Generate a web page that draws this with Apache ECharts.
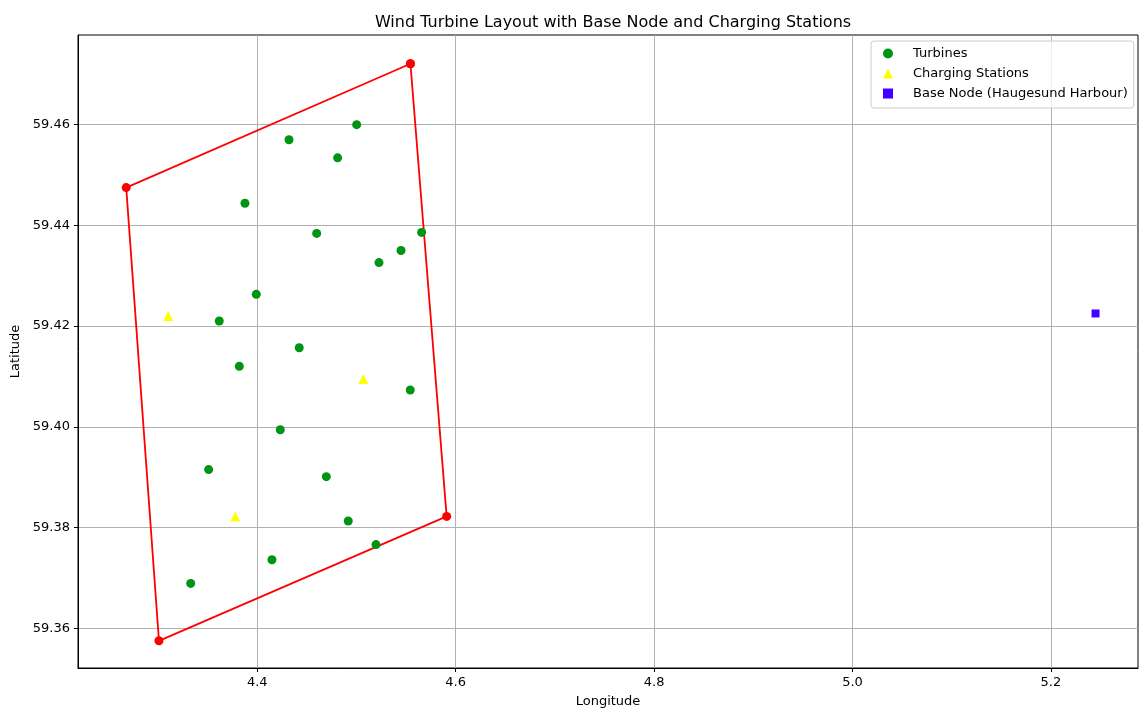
<!DOCTYPE html>
<html>
<head>
<meta charset="utf-8">
<script src="https://cdn.jsdelivr.net/npm/echarts@6/dist/echarts.min.js"></script>
<style>
html,body{margin:0;padding:0;background:#fff;}
#chart{width:1139px;height:713px;}
</style>
</head>
<body>
<div id="chart"></div>
<script>
// ---- data ----
const turbineLon = [4.5002, 4.4320, 4.4810, 4.3876, 4.4599, 4.5657, 4.5449, 4.5227, 4.3990, 4.3617,
                    4.4423, 4.3819, 4.5542, 4.4232, 4.3510, 4.4696, 4.4917, 4.5197, 4.4148, 4.3329];
const turbineLat = [59.4600, 59.4570, 59.4534, 59.4444, 59.4384, 59.4386, 59.4350, 59.4326, 59.4263, 59.4210,
                    59.4157, 59.4120, 59.4073, 59.3994, 59.3915, 59.3901, 59.3813, 59.3766, 59.3736, 59.3689];
const chargingLon = [4.3103, 4.5069, 4.3778];
const chargingLat = [59.4220, 59.4095, 59.3822];
const baseLon = [5.2450];
const baseLat = [59.4225];
const boundaryLon = [4.5544, 4.5909, 4.3009, 4.2679, 4.5544];
const boundaryLat = [59.4721, 59.3822, 59.3575, 59.4475, 59.4721];
const xTicks = [4.4, 4.6, 4.8, 5.0, 5.2];
const yTicks = [59.36, 59.38, 59.40, 59.42, 59.44, 59.46];

const zip = (a, b) => a.map((v, i) => [v, b[i]]);
const FONT = 'DejaVu Sans';

const chart = echarts.init(document.getElementById('chart'), null, {renderer: 'canvas'});
chart.setOption({
  animation: false,
  backgroundColor: '#fff',
  textStyle: {fontFamily: FONT},
  title: {
    text: 'Wind Turbine Layout with Base Node and Charging Stations',
    left: 608, top: 10, textAlign: 'center',
    textStyle: {fontFamily: FONT, fontSize: 16, fontWeight: 'normal', color: '#000'}
  },
  legend: {
    orient: 'vertical',
    left: 871, top: 41,
    padding: [6, 6, 8, 12],
    itemGap: 7,
    itemWidth: 10, itemHeight: 10,
    backgroundColor: 'rgba(255,255,255,0.8)',
    borderColor: '#cccccc', borderWidth: 1, borderRadius: 3,
    textStyle: {fontFamily: FONT, fontSize: 13, color: '#000', padding: [0, 0, 0, 15]},
    data: [
      {name: 'Turbines', icon: 'circle'},
      {name: 'Charging Stations', icon: 'triangle'},
      {name: 'Base Node (Haugesund Harbour)', icon: 'rect'}
    ]
  },
  grid: {left: 78, right: 1, top: 35, bottom: 43, show: true, borderColor: '#000', borderWidth: 1, backgroundColor: '#fff'},
  xAxis: {
    type: 'value', min: 4.2193, max: 5.2878,
    minInterval: 0.2, maxInterval: 0.2,
    name: 'Longitude', nameLocation: 'middle', nameGap: 27,
    nameTextStyle: {fontFamily: FONT, fontSize: 13, color: '#000'},
    axisLine: {show: true, onZero: false, lineStyle: {color: '#000', width: 1}},
    axisTick: {show: true, length: 4, lineStyle: {color: '#000'}, customValues: xTicks},
    axisLabel: {fontFamily: FONT, fontSize: 13, color: '#000', margin: 8, customValues: xTicks,
      formatter: v => v.toFixed(1)},
    splitLine: {show: true, lineStyle: {color: '#b0b0b0', width: 1}}
  },
  yAxis: {
    type: 'value', min: 59.3521, max: 59.4778,
    minInterval: 0.02, maxInterval: 0.02,
    name: 'Latitude', nameLocation: 'middle', nameGap: 56, nameRotate: 90,
    nameTextStyle: {fontFamily: FONT, fontSize: 13, color: '#000'},
    axisLine: {show: true, onZero: false, lineStyle: {color: '#000', width: 1}},
    axisTick: {show: true, length: 4, lineStyle: {color: '#000'}, customValues: yTicks},
    axisLabel: {fontFamily: FONT, fontSize: 13, color: '#000', margin: 8, customValues: yTicks,
      formatter: v => v.toFixed(2)},
    splitLine: {show: true, lineStyle: {color: '#b0b0b0', width: 1}}
  },
  series: [
    {
      name: 'Boundary', type: 'line',
      data: zip(boundaryLon, boundaryLat),
      symbol: 'circle', symbolSize: 9, showSymbol: true,
      lineStyle: {color: '#ff0000', width: 1.8},
      itemStyle: {color: '#ff0000'},
      z: 2
    },
    {
      name: 'Turbines', type: 'scatter',
      data: zip(turbineLon, turbineLat),
      symbol: 'circle', symbolSize: 9,
      itemStyle: {color: '#009414', opacity: 1},
      z: 3
    },
    {
      name: 'Charging Stations', type: 'scatter',
      data: zip(chargingLon, chargingLat),
      symbol: 'triangle', symbolSize: 10,
      itemStyle: {color: '#ffff00', opacity: 1},
      z: 3
    },
    {
      name: 'Base Node (Haugesund Harbour)', type: 'scatter',
      data: zip(baseLon, baseLat),
      symbol: 'rect', symbolSize: 8,
      itemStyle: {color: '#4000ff', opacity: 1},
      z: 3
    }
  ]
});
</script>
</body>
</html>
